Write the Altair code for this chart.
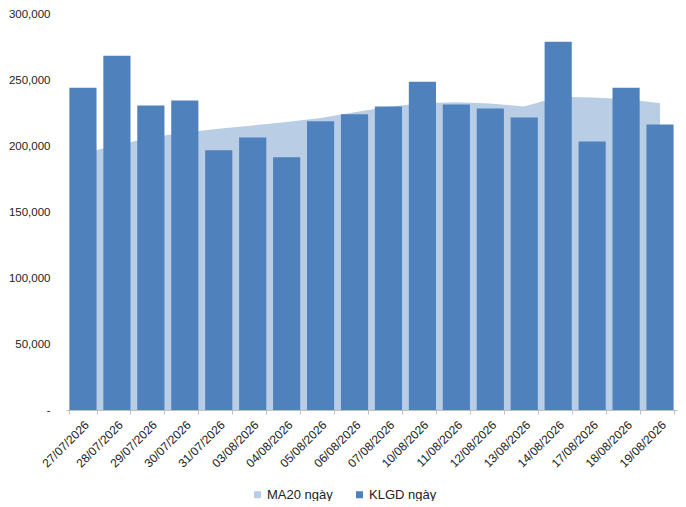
import altair as alt
import pandas as pd

dates = ["27/07/2026", "28/07/2026", "29/07/2026", "30/07/2026", "31/07/2026",
         "03/08/2026", "04/08/2026", "05/08/2026", "06/08/2026", "07/08/2026",
         "10/08/2026", "11/08/2026", "12/08/2026", "13/08/2026", "14/08/2026",
         "17/08/2026", "18/08/2026", "19/08/2026"]
klgd = [244200, 268300, 230600, 234400, 196700, 206500, 191400, 218800, 224100,
        229900, 248700, 231500, 228400, 221600, 278900, 203500, 244200, 216300]
ma20 = [194500, 200500, 206500, 210300, 213100, 215600, 218200, 221200, 225600,
        229700, 232300, 233100, 232200, 229900, 237300, 236800, 235600, 232400]
series = ["MA20 ngày", "KLGD ngày"]
colors = ["#B9CDE5", "#4F81BD"]
y_ticks = [0, 50000, 100000, 150000, 200000, 250000, 300000]

df = pd.DataFrame({"date": dates, "klgd": klgd, "ma20": ma20})

FONT = "Liberation Sans"

x_enc = alt.X(
    "date:N", sort=dates, title=None,
    scale=alt.Scale(paddingInner=0.2, paddingOuter=0.1),
    axis=alt.Axis(labelAngle=-45, labelAlign="right", labelBaseline="top",
                  labelFontSize=12, labelColor="#222222", labelFont=FONT,
                  tickBand="extent", tickSize=4, tickColor="#BFBFBF",
                  domainColor="#BFBFBF", labelPadding=5, grid=False),
)
y_scale = alt.Scale(domain=[0, 300000], nice=False)
y_axis = alt.Axis(values=y_ticks, grid=False, ticks=False, tickSize=0, domain=False,
                  labelPadding=16, labelFontSize=11.5, labelColor="#222222", labelFont=FONT,
                  labelExpr="datum.value == 0 ? '-\u00a0\u00a0' : format(datum.value, ',')")

color_scale = alt.Scale(domain=series, range=colors)
legend = alt.Legend(orient="none", legendX=185, legendY=474, direction="horizontal",
                    title=None, symbolType="square", symbolSize=49, symbolStrokeWidth=0,
                    labelFontSize=13, labelFont=FONT, labelColor="#222222",
                    labelOffset=3, columnPadding=20, padding=0)

area = alt.Chart(df).transform_calculate(s="'MA20 ngày'").mark_area(opacity=1).encode(
    x=x_enc,
    y=alt.Y("ma20:Q", scale=y_scale, axis=y_axis, title=None),
    color=alt.Color("s:N", scale=color_scale, legend=legend, sort=series),
)

bars = alt.Chart(df).transform_calculate(s="'KLGD ngày'").mark_bar().encode(
    x=x_enc,
    y=alt.Y("klgd:Q", scale=y_scale, axis=y_axis, title=None),
    color=alt.Color("s:N", scale=color_scale, legend=legend, sort=series),
)

chart = alt.layer(area, bars).properties(
    width=611, height=396,
    autosize=alt.AutoSizeParams(type="none"),
    padding={"left": 58, "top": 6, "right": 1, "bottom": 91},
    background="white",
).configure_view(stroke=None)

chart.save("out.html", embed_options={"renderer": "svg", "actions": False})
